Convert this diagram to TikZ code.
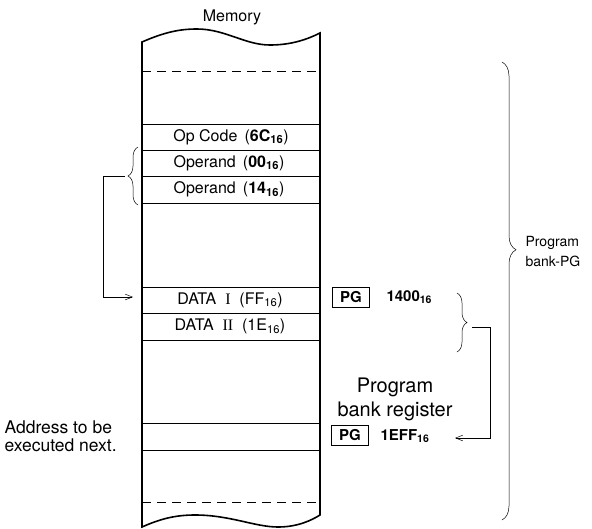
\documentclass[tikz,border=0pt]{standalone}
\usepackage{fontspec}
\setmainfont{TeX Gyre Heros}
\newfontfamily\romnum{Liberation Serif}
\usetikzlibrary{arrows.meta,positioning,calc,decorations.pathreplacing}
\tikzset{
  wall/.style={line width=1.6pt},
  row/.style={line width=0.6pt},
  gap/.style={line width=0.6pt,dash pattern=on 9pt off 6pt},
  arr/.style={-{Straight Barb[length=2.5mm,width=2mm]},line width=0.5pt},
  reg/.style={draw,line width=0.6pt,minimum width=37pt,minimum height=20pt,inner sep=0pt,font=\fontsize{15}{16}\selectfont\bfseries},
  brc/.style={decorate,decoration={brace,amplitude=#1},line width=0.5pt},
  brc/.default=10pt,
}
\newcommand{\hx}[1]{\textsubscript{#1}}

\begin{document}
\begin{tikzpicture}[x=1pt,y=-1pt,font=\fontsize{16}{18}\selectfont]
  \useasboundingbox (0,0) rectangle (592,528);
  \draw[wall] (142,42) .. controls (165,32) and (180,29) .. (197,29)
    .. controls (225,29) and (245,45) .. (270,45)
    .. controls (292,45) and (308,39) .. (320,33) -- (320,515)
    .. controls (312,520) and (298,527) .. (278,527)
    .. controls (255,527) and (230,515) .. (195,515)
    .. controls (175,515) and (160,519) .. (142,527) -- cycle;
  \foreach \y in {124,150,176,203,287,313,340,423,450}
    \draw[row] (142,\y) -- (320,\y);
  \foreach \y in {71,502} \draw[gap] (142,\y) -- (320,\y);
  \node (mem) at (232,17) {Memory};
  \node (opc) at (231,137) {Op Code \,(\textbf{6C}\hx{\textbf{16}})};
  \node (opa) at (229,163) {Operand \,(\textbf{00}\hx{\textbf{16}})};
  \node (opb) at (229,189.5) {Operand \,(\textbf{14}\hx{\textbf{16}})};
  \node (da) at (230,300) {DATA \ {\romnum I} \ (FF\hx{16})};
  \node (db) at (230,326.5) {DATA \ {\romnum II} \ (1E\hx{16})};
  \node[reg] (pga) at (351,297) {PG};
  \node[anchor=west,font=\fontsize{15}{16}\selectfont\bfseries] (adra) at (383,297) {1400\hx{16}};
  \node[align=center,font=\fontsize{20}{24}\selectfont] (pbr) at (395,399) {Program\\bank register};
  \node[reg] (pgb) at (350,435) {PG};
  \node[anchor=west,font=\fontsize{15}{16}\selectfont\bfseries] (adrb) at (377,436) {1EFF\hx{16}};
  \node[anchor=west,align=left,font=\fontsize{17.5}{18}\selectfont] (nxt) at (1,436) {Address to be\\executed next.};
  \node[anchor=west,align=left,font=\fontsize{14}{20}\selectfont] (pbk) at (522,252) {Program\\bank-PG};
  \draw[brc] (138,205) -- (138,147);
  \coordinate (lb) at (125,176);
  \coordinate (din) at (133,297);
  \draw[arr] (lb) -- (103,176) |- (din);
  \draw[brc] (457,293) -- (457,352);
  \coordinate (sb) at (472,327);
  \coordinate (rb) at (455,438);
  \draw[arr] (sb) -- (490,327) |- (rb);
  \draw[brc=14pt,decoration={aspect=0.41}] (502,62) -- (502,520);
\end{tikzpicture}
\end{document}
